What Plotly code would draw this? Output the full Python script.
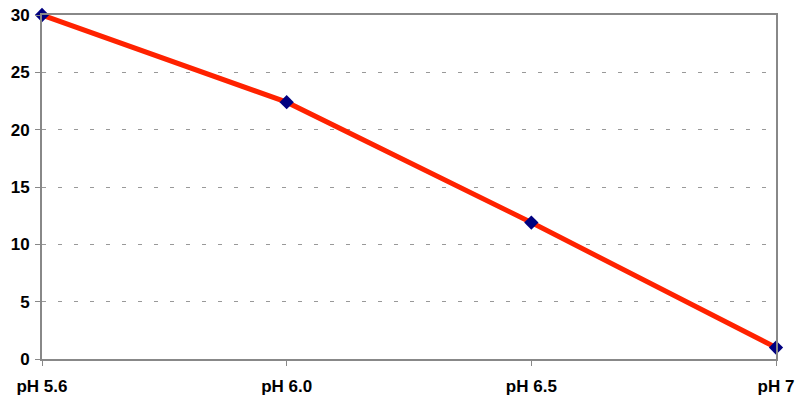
import plotly.graph_objects as go

categories = ["pH 5.6", "pH 6.0", "pH 6.5", "pH 7"]
values = [30, 22.4, 11.9, 1.0]
y_ticks = [0, 5, 10, 15, 20, 25, 30]

x_pos = list(range(len(categories)))

fig = go.Figure()
fig.add_trace(go.Scatter(
    x=x_pos, y=values, mode="lines+markers",
    line=dict(color="#FF2200", width=5),
    marker=dict(symbol="diamond", size=11, color="#000080"),
    cliponaxis=False,
))

font = dict(family="Liberation Sans, Arial, sans-serif", size=17, color="#000000")

fig.update_layout(
    width=797, height=398,
    margin=dict(l=42, r=21, t=15, b=39),
    paper_bgcolor="white", plot_bgcolor="white",
    showlegend=False,
    font=font,
)
fig.update_xaxes(
    range=[0, len(categories) - 1], automargin=False,
    tickvals=x_pos, ticktext=["<b>%s</b>" % c for c in categories],
    showgrid=False, zeroline=False,
    showline=True, linecolor="#888888", linewidth=2, mirror=True,
    ticks="outside", ticklen=5, tickcolor="#888888", tickwidth=1,
    ticklabelstandoff=6,
)
fig.update_yaxes(
    range=[0, 30], automargin=False,
    tickvals=y_ticks, ticktext=["<b>%d</b>" % v for v in y_ticks],
    showgrid=True, gridcolor="#999999", gridwidth=1, griddash="4px,12px",
    zeroline=False,
    showline=True, linecolor="#888888", linewidth=2, mirror=True,
    ticks="outside", ticklen=5, tickcolor="#888888", tickwidth=1,
    ticklabelstandoff=2,
)

fig.write_html("out.html")
